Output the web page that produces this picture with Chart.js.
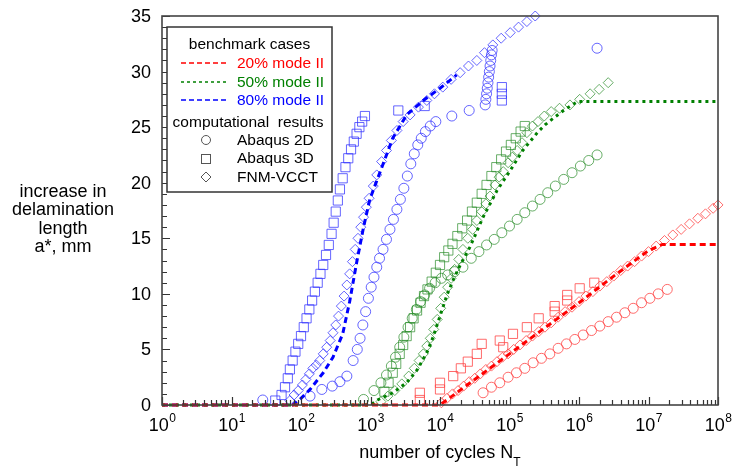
<!DOCTYPE html>
<html><head><meta charset="utf-8">
<script src="https://cdn.jsdelivr.net/npm/chart.js@4"></script>
<style>html,body{margin:0;padding:0;background:#fff;}#wrap{position:relative;width:733px;height:468px;}</style>
</head><body><div id="wrap"><canvas id="c" width="733" height="468"></canvas></div>
<script>
// ---- data: [log10(N), a* (mm)] ----
const xTickExponents = [0,1,2,3,4,5,6,7,8];
const yTickValues = [0,5,10,15,20,25,30,35];

const benchRed = [[0,0],[4.0,0],[4.5,2.3],[5.0,4.6],[5.5,6.9],[6.0,9.2],[6.5,11.6],[7.0,13.9],[7.2,14.45],[8.0,14.45]];
const benchGreen = [[0,0],[3.0,0],[3.1,0.45],[3.32,1.1],[3.52,2.0],[3.67,3.15],[3.81,4.7],[3.9,6.1],[4.0,8.0],[4.1,9.9],[4.2,11.4],[4.3,12.7],[4.43,14.2],[4.62,16.9],[4.82,19.3],[5.01,21.1],[5.19,22.9],[5.4,24.5],[5.51,25.2],[5.63,25.8],[5.8,26.6],[5.98,27.3],[8.0,27.3]];
const benchBlue = [[0,0],[1.88,0],[2.0,0.6],[2.13,1.4],[2.32,2.9],[2.46,4.3],[2.6,6.4],[2.7,9.3],[2.8,12.8],[2.9,16.0],[2.99,18.5],[3.14,21.0],[3.32,24.0],[3.52,26.1],[3.76,27.4],[4.0,28.5],[4.24,29.7]];

const blue2D = [[1.45,0.45],[2.13,0.8],[2.30,1.4],[2.45,1.7],[2.56,2.1],[2.66,2.6],[2.75,4.0],[2.81,5.0],[2.85,6.0],[2.89,7.2],[2.93,8.4],[2.97,9.6],[3.01,10.6],[3.05,11.5],[3.09,12.4],[3.13,13.2],[3.18,14.0],[3.23,14.9],[3.28,15.8],[3.33,16.7],[3.38,17.6],[3.43,18.5],[3.48,19.5],[3.53,20.6],[3.58,21.7],[3.63,22.6],[3.68,23.4],[3.73,24.0],[3.79,24.6],[3.86,25.1],[3.94,25.5],[4.17,26.0],[4.42,26.5],[4.65,27.0],[4.66,27.5],[4.67,28.0],[4.68,28.5],[4.69,29.0],[4.70,29.5],[4.71,30.0],[4.72,30.5],[4.73,31.0],[4.74,31.5],[4.75,31.9],[6.26,32.1]];
const blue3D = [[1.63,0.4],[1.72,0.9],[1.77,1.6],[1.81,2.4],[1.84,3.2],[1.88,4.0],[1.92,4.8],[1.96,5.5],[2.00,6.2],[2.04,7.0],[2.08,7.8],[2.12,8.6],[2.16,9.4],[2.20,10.2],[2.24,11.0],[2.28,11.8],[2.32,12.6],[2.36,13.5],[2.40,14.4],[2.44,15.4],[2.47,16.4],[2.50,17.4],[2.53,18.4],[2.56,19.4],[2.60,20.4],[2.64,21.4],[2.68,22.2],[2.72,23.0],[2.76,23.7],[2.80,24.4],[2.84,25.0],[2.88,25.5],[2.92,26.0],[3.40,26.5],[3.78,26.9],[4.89,27.4],[4.89,28.0],[4.89,28.6]];
const blueFNM = [[1.84,0.4],[1.90,0.9],[1.96,1.3],[2.02,1.8],[2.07,2.3],[2.12,2.8],[2.17,3.3],[2.22,3.6],[2.27,4.0],[2.32,4.6],[2.37,5.2],[2.42,5.8],[2.46,6.5],[2.50,7.2],[2.54,8.0],[2.58,8.9],[2.62,9.8],[2.66,10.8],[2.70,11.8],[2.74,12.9],[2.78,14.0],[2.82,15.0],[2.86,16.0],[2.90,16.9],[2.94,17.8],[2.98,18.6],[3.04,19.7],[3.09,20.7],[3.16,21.9],[3.23,22.9],[3.30,23.8],[3.38,24.7],[3.47,25.5],[3.57,26.1],[3.69,26.8],[3.81,27.4],[3.92,28.0],[4.04,28.6],[4.16,29.3],[4.29,29.9],[4.41,30.5],[4.53,31.0],[4.64,31.7],[4.76,32.4],[4.88,33.0],[5.01,33.5],[5.13,34.0],[5.25,34.5],[5.37,35.0]];

const green2D = [[2.90,0.5],[3.05,1.3],[3.15,2.0],[3.23,2.7],[3.30,3.5],[3.36,4.3],[3.42,5.2],[3.48,6.1],[3.54,7.0],[3.60,7.8],[3.66,8.6],[3.72,9.3],[3.78,9.9],[3.85,10.5],[3.93,11.0],[4.02,11.4],[4.11,11.7],[4.21,12.0],[4.33,12.4],[4.45,13.2],[4.56,13.8],[4.67,14.4],[4.78,14.9],[4.89,15.5],[5.00,16.1],[5.11,16.7],[5.22,17.3],[5.33,17.9],[5.44,18.5],[5.55,19.1],[5.66,19.7],[5.78,20.3],[5.90,20.9],[6.02,21.5],[6.14,22.0],[6.26,22.5]];
const green3D = [[3.20,1.2],[3.26,2.0],[3.32,2.9],[3.37,3.7],[3.42,4.6],[3.47,5.4],[3.52,6.2],[3.57,7.0],[3.62,7.8],[3.67,8.5],[3.72,9.2],[3.77,9.8],[3.82,10.4],[3.88,11.1],[3.94,11.9],[4.00,12.6],[4.06,13.3],[4.12,13.9],[4.18,14.5],[4.25,15.2],[4.32,15.9],[4.39,16.6],[4.46,17.4],[4.53,18.2],[4.60,19.0],[4.67,19.8],[4.74,20.6],[4.81,21.4],[4.88,22.1],[4.95,22.8],[5.02,23.4],[5.09,24.0],[5.16,24.6],[5.22,25.1]];
const greenFNM = [[3.15,0.3],[3.25,0.8],[3.35,1.3],[3.45,1.9],[3.55,2.6],[3.63,3.3],[3.70,4.0],[3.76,4.6],[3.81,5.3],[3.86,6.0],[3.91,6.8],[3.96,7.7],[4.01,8.7],[4.06,9.7],[4.11,10.6],[4.16,11.4],[4.21,12.2],[4.27,13.1],[4.33,14.0],[4.40,15.0],[4.47,15.8],[4.53,16.6],[4.60,17.4],[4.66,18.1],[4.72,18.8],[4.79,19.8],[4.85,20.5],[4.91,21.0],[4.98,21.8],[5.04,22.3],[5.11,22.9],[5.18,23.6],[5.25,24.5],[5.33,25.1],[5.41,25.5],[5.50,26.0],[5.60,26.4],[5.72,26.7],[5.87,27.0],[6.01,27.5],[6.16,28.0],[6.29,28.4],[6.42,29.0]];

const red2D = [[4.62,1.1],[4.74,1.6],[4.86,2.0],[4.98,2.5],[5.10,2.9],[5.22,3.3],[5.34,3.8],[5.46,4.2],[5.58,4.6],[5.70,5.1],[5.82,5.5],[5.94,5.9],[6.06,6.3],[6.18,6.7],[6.30,7.1],[6.42,7.5],[6.54,7.9],[6.66,8.3],[6.78,8.7],[6.90,9.2],[7.02,9.6],[7.14,10.0],[7.27,10.4]];
const red3D = [[3.71,0.45],[3.71,1.1],[4.00,1.4],[4.00,2.0],[4.19,2.6],[4.30,3.3],[4.40,3.9],[4.53,4.6],[4.60,5.5],[4.86,5.8],[4.91,5.2],[5.05,6.4],[5.25,7.0],[5.42,7.8],[5.65,8.4],[5.65,8.9],[5.83,9.4],[5.83,9.9],[6.01,10.5],[6.22,11.0]];
const redFNM = [[4.02,0.2],[4.10,0.6],[4.18,1.0],[4.26,1.3],[4.34,1.7],[4.42,2.1],[4.50,2.4],[4.58,2.8],[4.66,3.2],[4.74,3.5],[4.82,3.9],[4.90,4.3],[4.98,4.6],[5.06,5.0],[5.15,5.4],[5.24,5.8],[5.33,6.2],[5.42,6.6],[5.51,7.0],[5.60,7.4],[5.70,7.9],[5.80,8.4],[5.90,8.8],[6.00,9.3],[6.10,9.8],[6.20,10.2],[6.30,10.7],[6.40,11.1],[6.50,11.6],[6.60,12.1],[6.70,12.5],[6.80,12.9],[6.90,13.4],[7.00,13.8],[7.11,14.3],[7.23,14.8],[7.35,15.3],[7.47,15.8],[7.59,16.3],[7.71,16.8],[7.82,17.2],[7.93,17.7],[8.00,18.0]];

// ---- styling ----
const FONT = '"Liberation Sans", Arial, Helvetica, sans-serif';
const C_RED = '#ff0000', C_GREEN = '#008000', C_BLUE = '#0000ff';
const M_RED = 'rgba(255,70,70,0.8)', M_GREEN = 'rgba(40,140,40,0.7)', M_BLUE = 'rgba(50,50,255,0.75)';

const toXY = arr => arr.map(p => ({x: Math.pow(10, p[0]), y: p[1]}));

function lineDS(data, color, dash){
  return {type:'line', data: toXY(data), borderColor: color, borderWidth: 3, borderDash: dash,
    pointRadius: 0, fill: false, tension: 0, clip: false};
}
function markDS(data, color, style, r){
  return {type:'scatter', data: toXY(data), borderColor: color, backgroundColor: 'rgba(0,0,0,0)',
    pointStyle: style, pointRadius: r, pointBorderWidth: 1, showLine: false, clip: false};
}

const datasets = [
  lineDS(benchRed, C_RED, [6,4]),
  lineDS(benchGreen, C_GREEN, [3,4]),
  lineDS(benchBlue, C_BLUE, [6,4]),
  markDS(blueFNM, M_BLUE, 'rectRot', 5),
  markDS(blue3D, M_BLUE, 'rect', 6.5),
  markDS(blue2D, M_BLUE, 'circle', 5),
  markDS(greenFNM, M_GREEN, 'rectRot', 5),
  markDS(green3D, M_GREEN, 'rect', 6.5),
  markDS(green2D, M_GREEN, 'circle', 5),
  markDS(redFNM, M_RED, 'rectRot', 5),
  markDS(red3D, M_RED, 'rect', 6.5),
  markDS(red2D, M_RED, 'circle', 5)
];

const decor = {
  id: 'decor',
  afterDraw(chart){
    const ctx = chart.ctx, a = chart.chartArea;
    const xs = chart.scales.x, ys = chart.scales.y;
    ctx.save();
    // ticks (inward)
    ctx.strokeStyle = '#333'; ctx.lineWidth = 1.2;
    ctx.beginPath();
    for (let k = 0; k <= 8; k++){
      const px = Math.round(xs.getPixelForValue(Math.pow(10,k))) + 0.5;
      ctx.moveTo(px, a.bottom); ctx.lineTo(px, a.bottom - 8);
      if (k < 8) for (let m = 2; m <= 9; m++){
        const q = Math.round(xs.getPixelForValue(m*Math.pow(10,k))) + 0.5;
        ctx.moveTo(q, a.bottom); ctx.lineTo(q, a.bottom - 5);
      }
    }
    for (let v = 0; v <= 35; v++){
      const py = Math.round(ys.getPixelForValue(v)) + 0.5;
      ctx.moveTo(a.left, py); ctx.lineTo(a.left + (v % 5 === 0 ? 8 : 5), py);
    }
    ctx.stroke();
    // frame
    ctx.strokeStyle = '#444'; ctx.lineWidth = 1.6;
    ctx.strokeRect(a.left, a.top, a.right - a.left, a.bottom - a.top);

    ctx.fillStyle = '#000';
    // x tick labels 10^k
    xTickExponents.forEach(k => {
      const px = xs.getPixelForValue(Math.pow(10,k));
      ctx.font = '18px ' + FONT; const w1 = ctx.measureText('10').width;
      ctx.font = '12px ' + FONT; const w2 = ctx.measureText(String(k)).width;
      const x0 = px - (w1 + w2)/2;
      ctx.textAlign = 'left'; ctx.textBaseline = 'alphabetic';
      ctx.font = '18px ' + FONT; ctx.fillText('10', x0, 431);
      ctx.font = '12px ' + FONT; ctx.fillText(String(k), x0 + w1 + 0.5, 422);
    });
    // y tick labels
    ctx.font = '18px ' + FONT; ctx.textAlign = 'right'; ctx.textBaseline = 'middle';
    yTickValues.forEach(v => ctx.fillText(String(v), 151, ys.getPixelForValue(v) + 1));

    // x title with subscript
    ctx.textBaseline = 'alphabetic'; ctx.textAlign = 'left';
    ctx.font = '18px ' + FONT;
    const t1 = 'number of cycles N'; const tw = ctx.measureText(t1).width;
    ctx.font = '12px ' + FONT; const sw = ctx.measureText('T').width;
    const tx = 440 - (tw + sw)/2;
    ctx.font = '18px ' + FONT; ctx.fillText(t1, tx, 458);
    ctx.font = '12px ' + FONT; ctx.fillText('T', tx + tw, 466);

    // y title (multi-line, horizontal)
    ctx.font = '18px ' + FONT; ctx.textAlign = 'center';
    ['increase in','delamination','length','a*, mm'].forEach((s,i) => ctx.fillText(s, 63, 197 + i*18.4));

    // legend box
    ctx.fillStyle = '#fff'; ctx.fillRect(167, 27, 165, 165);
    ctx.strokeStyle = '#333'; ctx.lineWidth = 1.5; ctx.strokeRect(167, 27, 165, 165);
    ctx.font = '15.5px ' + FONT; ctx.textBaseline = 'middle';
    ctx.fillStyle = '#000'; ctx.textAlign = 'center';
    ctx.fillText('benchmark cases', 249.5, 45);
    ctx.fillText('computational  results', 248, 123);
    const lg = [['20% mode II', C_RED, [5,3], 63], ['50% mode II', C_GREEN, [3,3], 82], ['80% mode II', C_BLUE, [5,3], 100]];
    lg.forEach(([t, c, d, y]) => {
      ctx.strokeStyle = c; ctx.lineWidth = 1.6; ctx.setLineDash(d);
      ctx.beginPath(); ctx.moveTo(181, y); ctx.lineTo(229, y); ctx.stroke();
      ctx.setLineDash([]);
      ctx.fillStyle = c; ctx.textAlign = 'left'; ctx.fillText(t, 237, y + 1);
    });
    // symbols
    ctx.strokeStyle = '#555'; ctx.lineWidth = 1;
    ctx.beginPath(); ctx.arc(206, 140, 4.5, 0, Math.PI*2); ctx.stroke();
    ctx.strokeRect(201.5, 154.5, 9, 9);
    ctx.beginPath(); ctx.moveTo(206, 172); ctx.lineTo(211, 177); ctx.lineTo(206, 182); ctx.lineTo(201, 177); ctx.closePath(); ctx.stroke();
    ctx.fillStyle = '#000';
    ctx.fillText('Abaqus 2D', 237, 141);
    ctx.fillText('Abaqus 3D', 237, 159);
    ctx.fillText('FNM-VCCT', 237, 178);
    ctx.restore();
  }
};

new Chart(document.getElementById('c'), {
  data: {datasets},
  options: {
    responsive: false, animation: false, devicePixelRatio: 1,
    layout: {padding: {left: 162, right: 15, top: 16, bottom: 63}},
    plugins: {legend: {display: false}, tooltip: {enabled: false}},
    scales: {
      x: {type: 'logarithmic', min: 1, max: 1e8, display: false},
      y: {type: 'linear', min: 0, max: 35, display: false}
    }
  },
  plugins: [decor]
});
</script></body></html>
